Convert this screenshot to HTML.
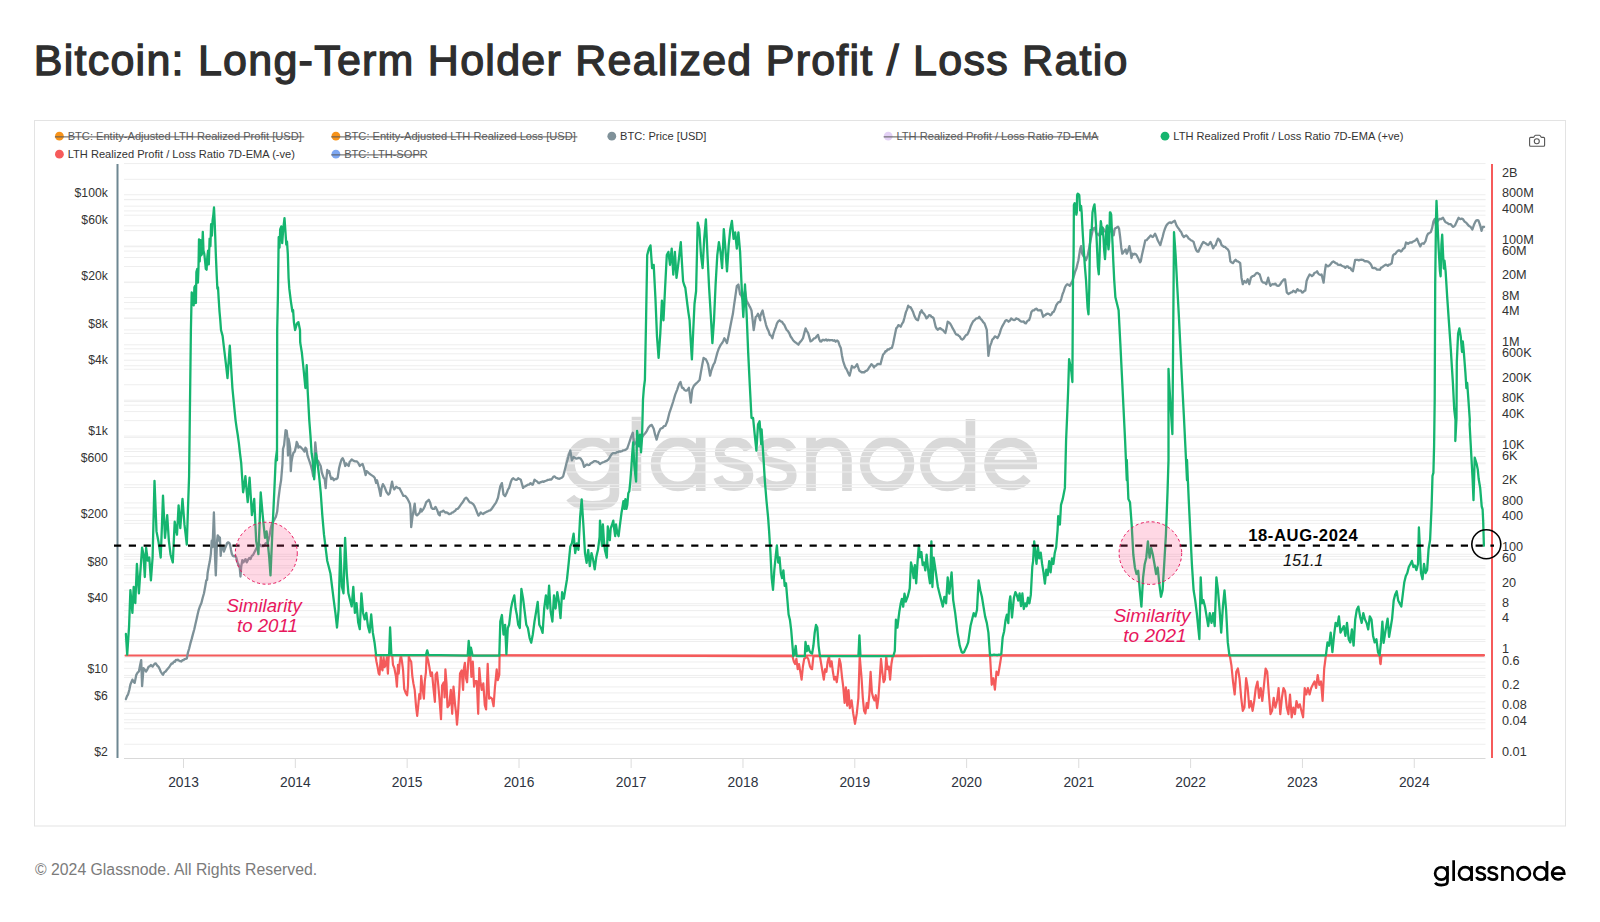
<!DOCTYPE html>
<html><head><meta charset="utf-8"><style>
html,body{margin:0;padding:0;background:#fff;width:1600px;height:922px;overflow:hidden}
svg{display:block;font-family:"Liberation Sans",sans-serif}
</style></head><body>
<svg width="1600" height="922" viewBox="0 0 1600 922">
<rect x="34.5" y="120.5" width="1531" height="705.5" fill="#fff" stroke="#e3e3e3" stroke-width="1"/>
<g transform="translate(565.25 491) scale(1)" fill="none" stroke="#d9d9d9" stroke-width="9.6" ><path d="M71.2 0V-74.25 M135.45 -54V0 M245.8 0V-54 M245.8 -31.25A17.95 17.95 0 0 1 281.7 -31.25V0 M405.2 -72V0 M49.2 -54V2 C49.2 12 39 14.7 27 14.7 C17 14.7 8.5 11.5 5 6.5 M419.5 -26.5H467A21.6 21.6 0 1 0 461.9 -13.1 M183.25 -41.00 C180.25 -47.00 175.25 -49.20 168.75 -49.20 C160.75 -49.20 154.45 -45.00 154.45 -38.50 C154.45 -31.50 160.75 -29.50 168.75 -27.50 C177.25 -25.50 183.25 -23.00 183.25 -15.50 C183.25 -8.50 176.75 -4.80 168.75 -4.80 C161.25 -4.80 155.25 -8.00 152.75 -14.00 M226.56 -41.00 C223.44 -47.00 218.25 -49.20 211.50 -49.20 C203.19 -49.20 196.65 -45.00 196.65 -38.50 C196.65 -31.50 203.19 -29.50 211.50 -27.50 C220.33 -25.50 226.56 -23.00 226.56 -15.50 C226.56 -8.50 219.81 -4.80 211.50 -4.80 C203.71 -4.80 197.48 -8.00 194.88 -14.00"/><circle cx="27" cy="-27" r="22.2"/><circle cx="112.7" cy="-27" r="22.4"/><circle cx="321.85" cy="-27.1" r="22.4"/><circle cx="381.95" cy="-27" r="22.4"/></g><path d="M124 163.58H1485.5M124 179.30H1485.5M124 194.76H1485.5M124 199.40H1485.5M124 199.74H1485.5M124 206.15H1485.5M124 210.93H1485.5M124 215.20H1485.5M124 225.80H1485.5M124 230.66H1485.5M124 246.12H1485.5M124 246.75H1485.5M124 251.10H1485.5M124 257.51H1485.5M124 266.56H1485.5M124 282.02H1485.5M124 282.58H1485.5M124 297.48H1485.5M124 302.46H1485.5M124 308.87H1485.5M124 317.92H1485.5M124 318.40H1485.5M124 329.93H1485.5M124 333.38H1485.5M124 344.80H1485.5M124 348.84H1485.5M124 353.82H1485.5M124 360.23H1485.5M124 365.75H1485.5M124 369.28H1485.5M124 384.74H1485.5M124 400.20H1485.5M124 401.58H1485.5M124 405.18H1485.5M124 411.59H1485.5M124 420.64H1485.5M124 436.10H1485.5M124 437.40H1485.5M124 448.93H1485.5M124 451.56H1485.5M124 456.54H1485.5M124 462.95H1485.5M124 463.80H1485.5M124 472.00H1485.5M124 484.75H1485.5M124 487.46H1485.5M124 502.92H1485.5M124 507.90H1485.5M124 514.31H1485.5M124 520.58H1485.5M124 523.36H1485.5M124 538.82H1485.5M124 554.28H1485.5M124 556.40H1485.5M124 559.26H1485.5M124 565.67H1485.5M124 567.93H1485.5M124 574.72H1485.5M124 582.80H1485.5M124 590.18H1485.5M124 603.75H1485.5M124 605.64H1485.5M124 610.62H1485.5M124 617.03H1485.5M124 626.08H1485.5M124 639.58H1485.5M124 641.54H1485.5M124 657.00H1485.5M124 661.98H1485.5M124 668.39H1485.5M124 675.40H1485.5M124 677.44H1485.5M124 686.93H1485.5M124 692.90H1485.5M124 701.80H1485.5M124 708.36H1485.5M124 713.34H1485.5M124 719.75H1485.5M124 722.75H1485.5M124 728.80H1485.5M124 744.26H1485.5" stroke="#eeeeee" stroke-width="1" fill="none"/><path d="M117.5 164V758" stroke="#6e8792" stroke-width="2"/><path d="M124 758.5H1485.5" stroke="#d9d9d9" stroke-width="1.2"/><path d="M183.50 758.5V768M295.33 758.5V768M407.16 758.5V768M519.00 758.5V768M631.14 758.5V768M742.97 758.5V768M854.80 758.5V768M966.63 758.5V768M1078.77 758.5V768M1190.60 758.5V768M1302.44 758.5V768M1414.27 758.5V768" stroke="#dcdcdc" stroke-width="1"/><g font-size="13.8" fill="#2d3340"><text x="183.50" y="787" text-anchor="middle">2013</text><text x="295.33" y="787" text-anchor="middle">2014</text><text x="407.16" y="787" text-anchor="middle">2015</text><text x="519.00" y="787" text-anchor="middle">2016</text><text x="631.14" y="787" text-anchor="middle">2017</text><text x="742.97" y="787" text-anchor="middle">2018</text><text x="854.80" y="787" text-anchor="middle">2019</text><text x="966.63" y="787" text-anchor="middle">2020</text><text x="1078.77" y="787" text-anchor="middle">2021</text><text x="1190.60" y="787" text-anchor="middle">2022</text><text x="1302.44" y="787" text-anchor="middle">2023</text><text x="1414.27" y="787" text-anchor="middle">2024</text></g><g font-size="12.2" fill="#333"><text x="107.8" y="197.20" text-anchor="end">$100k</text><text x="107.8" y="223.60" text-anchor="end">$60k</text><text x="107.8" y="280.38" text-anchor="end">$20k</text><text x="107.8" y="327.73" text-anchor="end">$8k</text><text x="107.8" y="363.55" text-anchor="end">$4k</text><text x="107.8" y="435.20" text-anchor="end">$1k</text><text x="107.8" y="461.60" text-anchor="end">$600</text><text x="107.8" y="518.38" text-anchor="end">$200</text><text x="107.8" y="565.73" text-anchor="end">$80</text><text x="107.8" y="601.55" text-anchor="end">$40</text><text x="107.8" y="673.20" text-anchor="end">$10</text><text x="107.8" y="699.60" text-anchor="end">$6</text><text x="107.8" y="756.38" text-anchor="end">$2</text></g><g font-size="12.7" fill="#333"><text x="1502" y="177.09">2B</text><text x="1502" y="197.46">800M</text><text x="1502" y="212.87">400M</text><text x="1502" y="243.70">100M</text><text x="1502" y="255.06">60M</text><text x="1502" y="279.49">20M</text><text x="1502" y="299.86">8M</text><text x="1502" y="315.27">4M</text><text x="1502" y="346.10">1M</text><text x="1502" y="357.46">600K</text><text x="1502" y="381.89">200K</text><text x="1502" y="402.26">80K</text><text x="1502" y="417.67">40K</text><text x="1502" y="448.50">10K</text><text x="1502" y="459.86">6K</text><text x="1502" y="484.29">2K</text><text x="1502" y="504.66">800</text><text x="1502" y="520.07">400</text><text x="1502" y="550.90">100</text><text x="1502" y="562.26">60</text><text x="1502" y="586.69">20</text><text x="1502" y="607.06">8</text><text x="1502" y="622.47">4</text><text x="1502" y="653.30">1</text><text x="1502" y="664.66">0.6</text><text x="1502" y="689.09">0.2</text><text x="1502" y="709.46">0.08</text><text x="1502" y="724.87">0.04</text><text x="1502" y="755.70">0.01</text></g><path d="M1492 164V758" stroke="#f65b5b" stroke-width="2"/><path d="M125.5 655.5H1484" stroke="#f45b5b" stroke-width="2" stroke-linecap="round"/><path d="M125.9 699.2 127 696.2 128.1 694.3 129.3 690.0 130.4 684.5 132.4 679.6 133.5 681.7 134.7 682.9 136.3 674.8 137.6 672.7 138.9 671.5 140 665.8 141.2 660.1 142.1 686.2 143.5 668.2 144.8 669.8 146.1 671.5 147.4 669.3 148.7 666.6 149.8 666.3 150.9 665.0 152.6 666.6 153.7 664.9 154.7 663.7 155.8 663.4 157.1 665.5 158.4 666.6 159.6 668.9 160.7 671.5 161.9 673.5 163 674.8 164.3 672.3 165.6 671.5 166.9 669.8 168.2 668.2 169.3 667.0 170.5 665.0 171.6 663.5 172.7 663.5 173.7 661.7 174.8 661.8 175.9 659.9 177 660.1 178.1 659.7 179.2 660.8 180.3 661.1 181.3 661.5 182.4 660.2 183.5 660.1 184.6 659.1 185.7 658.9 186.8 658.5 187.9 652.8 189.1 648.7 190.4 643.4 191.7 638.9 193 633.9 194.3 629.2 195.4 624.3 196.5 619.4 197.7 614.1 198.8 609.6 200.1 605.9 201.4 603.1 202.7 597.8 204 593.3 205.2 586.7 206.3 580.3 207.1 579.9 207.6 573.2 208.7 566.7 209.8 561.3 210.9 553.7 211.7 540.7 212.5 547.2 213.4 525.5 213.9 512.5 214.5 532.0 215 555.9 215.8 575.4 216.5 555.9 217.1 540.7 217.7 535.3 218.5 536.4 219.2 540.7 219.9 537.5 220.7 555.9 221.2 549.4 221.7 546.1 222.5 549.4 223.1 547.2 223.9 551.5 224.7 549.4 225.5 547.2 226.4 545.0 227.2 542.9 228.2 542.3 229.3 542.9 230.1 545.0 230.9 549.4 231.8 553.7 232.9 555.9 234.2 556.4 235.5 555.9 236.4 558.0 237.5 562.4 238.5 564.6 239.6 566.7 240.5 576.5 241.2 566.7 242.3 560.2 243.4 562.4 244.5 560.2 245.6 559.1 246.7 562.4 247.8 560.2 249.2 558.0 250.5 559.1 251.8 555.9 253.2 554.8 254.8 551.5 256.4 548.3 258 545.0 259.1 544.9 260.2 544.7 261.2 546.2 262.3 546.0 263.3 546.1 264.5 545.1 265.8 543.1 267 543.2 268.2 541.2 269.5 535.8 270.7 528.6 272 523.2 273.9 520.6 275.9 516.7 277.2 511.5 278.5 498.5 279.8 488.1 281.1 480.3 282.4 464.7 283 449.0 284.1 445.1 285 436.0 285.6 430.2 286.7 430.8 287.3 436.0 288 455.5 288.5 438.6 289.5 443.8 290.2 449.0 290.8 471.2 291.5 462.0 292.4 456.8 293.4 452.9 294.7 451.6 296 446.4 296.7 441.9 297.6 443.8 298.4 447.7 299.7 446.4 301.2 447.7 302.5 449.0 303.6 450.3 304.5 451.6 305.4 447.7 306.4 449.0 307.5 455.5 308.4 458.1 309.7 462.0 311 466.0 312.3 471.2 313.2 476.4 314.2 464.7 315.3 442.5 316.2 451.6 317.1 462.0 318.1 460.7 319.4 463.4 320.7 466.0 321.8 472.5 322.7 475.1 323.6 477.7 324.7 479.0 325.7 488.1 326.2 480.3 327.3 469.9 328.3 472.5 329.2 471.2 330.1 475.1 331.2 479.0 332.5 477.7 333.8 480.3 335.1 479.0 336.6 479.0 337.7 477.7 339 468.6 340.3 463.4 341.6 459.4 342.6 458.1 343.9 460.7 345.2 466.0 346.1 463.4 347.4 464.7 348.7 466.0 349.6 462.0 350.7 460.7 351.7 459.4 353.3 460.7 355.2 461.4 356.9 461.4 358.5 463.4 359.8 466.0 361.1 464.7 362.6 464.0 363.7 467.3 364.7 471.2 365.6 475.1 366.6 471.2 368.2 472.5 369.5 473.8 371.5 475.1 373.4 476.4 374.7 477.7 376.1 482.9 377 480.3 378 484.2 379.3 489.4 380.6 495.9 381.6 488.1 382.9 484.2 384.5 486.8 386.5 492.0 388.4 494.6 389.7 493.3 391 486.8 392.1 481.6 393 486.8 394.3 489.4 395.2 488.1 396.2 486.8 398.2 488.1 399.5 488.1 400.8 490.7 402.1 493.3 403.4 495.9 405.3 495.9 407.3 498.5 408.6 501.1 409.9 503.7 410.5 508.9 411.2 527.1 412.5 516.7 413.8 508.9 414.7 503.7 415.7 514.1 417 515.4 418.3 514.1 419.6 512.8 420.7 508.9 421.6 511.5 422.5 510.2 423.5 508.9 424.8 506.3 426.1 502.4 427.4 501.1 428.8 499.8 430.1 502.4 431.4 507.6 432.7 508.9 434.2 508.9 435.5 506.9 437.2 510.2 438.5 514.1 439.8 515.4 440 512.4 441.1 511.6 442.2 511.6 443.3 510.7 444.3 511.6 445.4 512.5 446.5 512.4 447.6 512.8 448.7 514.0 449.8 514.0 450.9 513.7 451.9 512.6 453 512.4 454.1 511.4 455.2 510.8 456.3 509.1 457.6 508.9 458.9 507.5 460 505.9 461.2 504.2 462.3 502.7 463.5 501.0 464.8 498.6 466.1 497.7 467.4 498.9 468.7 501.0 469.8 502.3 470.9 502.6 472.1 503.3 473.2 504.2 474.5 506.2 475.8 509.1 477.1 512.5 478.4 515.6 479.6 514.3 480.7 512.4 481.9 513.5 483 514.0 484.3 513.0 485.6 512.4 486.7 511.7 487.8 511.3 488.9 510.7 490.2 510.4 491.5 509.1 492.6 507.5 493.7 505.9 494.9 504.1 496 502.6 498 497.7 499.1 492.0 500.3 486.3 501.9 483.1 503.5 494.5 505.1 496.1 506.8 492.8 507.9 489.6 509.1 487.9 511 481.4 512.1 479.1 513.3 478.2 514.4 479.3 515.6 479.8 516.9 479.8 518.2 478.2 519.5 479.1 520.8 479.8 521.9 483.7 523.1 487.9 524.2 486.6 525.3 486.3 526.6 485.5 527.9 484.7 529.3 484.6 530.6 483.1 531.7 484.3 532.8 484.7 534.5 479.8 535.8 480.7 537.1 481.4 538.2 482.8 539.3 483.1 540.4 482.1 541.5 482.0 542.6 481.4 543.7 481.9 544.8 481.1 545.9 480.8 546.9 480.4 548 479.8 549.1 479.8 550.2 479.3 551.3 479.5 552.4 478.2 553.5 476.6 554.7 476.5 556 477.8 557.3 478.2 558.3 478.7 559.4 478.8 560.5 478.2 561.8 477.7 563.1 476.5 564.8 470.0 566.4 463.5 567.5 459.9 568.7 455.4 570.3 450.5 571.9 460.3 573.6 457.0 574.9 457.8 576.2 458.6 577.3 458.4 578.4 458.0 579.6 458.2 580.7 458.6 582.7 461.9 584 466.8 585.9 465.1 587.1 464.4 588.2 465.1 589.3 464.9 590.5 463.5 591.8 462.8 593.1 461.9 594.4 461.1 595.7 461.2 596.8 461.6 598 461.9 599 462.9 600 464.0 601.3 463.1 602.6 462.4 603.9 462.0 605.2 461.4 606.5 460.9 607.8 460.1 609.1 458.3 610.4 456.1 611.7 454.2 613 453.1 614.3 453.1 615.6 453.2 616.9 452.1 618.2 452.1 619.5 451.3 620.8 451.5 622.1 451.1 623.4 450.3 624.7 450.1 626 449.5 627.3 448.4 629.3 442.5 631.2 436.6 632.8 432.7 634.2 444.5 636.1 442.5 638.1 438.6 639.6 437.7 641 437.6 642.5 436.7 643.9 434.7 645.4 433.0 646.9 430.8 648.3 427.7 649.8 425.9 651.8 424.9 653.7 428.8 655.1 434.7 656.6 439.6 658.6 432.7 660.5 428.8 662.5 427.9 664 426.1 665.4 425.9 667.4 421.0 669.3 413.2 671.3 407.3 673.2 401.5 675.2 394.6 677.1 389.8 679.1 383.9 680.5 382.0 682 387.8 683.2 388.0 684.4 389.8 685.6 390.7 686.9 390.7 688.9 387.8 690.8 402.5 692.2 389.8 693.8 385.9 695.7 383.9 697.7 382.0 699.6 380.0 700.9 372.2 702.3 364.5 703.6 357.8 704.7 358.8 705.9 359.4 707 361.6 708.1 364.3 710.1 375.7 711.2 370.9 712.4 367.5 713.5 364.5 714.7 362.6 716 357.8 717.3 352.9 718.6 349.1 719.9 346.4 721 344.4 722.1 343.1 723.3 341.0 724.4 338.2 725.7 340.6 727 343.1 728.7 335.0 730.3 326.8 731.6 320.0 732.9 313.8 734 305.6 735.2 297.5 736.8 286.1 738.4 284.5 740.1 294.2 741.4 295.9 742.7 299.1 743.8 294.9 745 291.0 746.6 300.7 747.9 303.1 749.2 305.6 750.3 307.6 751.5 310.5 752.6 319.7 753.7 330.1 755.7 317.0 756.8 316.0 758 313.8 759.1 317.1 760.3 320.3 760 317.0 761.3 313.3 762.6 310.5 763.7 315.5 764.9 320.3 766 324.8 767.2 328.4 768.5 330.9 769.8 334.9 771.1 335.8 772.4 338.2 773.5 333.5 774.7 330.0 775.8 327.1 776.9 323.5 778.2 321.3 779.5 320.3 780.8 321.4 782.1 321.9 783.3 323.8 784.4 325.1 785.6 327.7 786.7 330.0 788 331.2 789.3 333.3 790.6 336.5 791.9 338.2 793.1 340.3 794.2 341.4 795.3 342.3 796.5 343.1 798.4 344.7 799.6 342.6 800.7 341.4 801.9 340.0 803 338.2 804.3 333.1 805.6 328.4 806.9 331.0 808.2 333.3 809.3 337.1 810.5 341.4 811.6 340.8 812.8 339.8 814.1 338.3 815.4 338.2 816.7 336.2 818 334.9 819.1 338.9 820.3 341.4 821.3 341.5 822.4 340.0 823.5 339.8 824.7 340.4 826 339.5 827.2 340.5 828.4 339.8 829.6 340.4 830.8 340.2 832.1 340.1 833.3 340.8 834.5 340.2 835.7 341.7 837 340.5 838.2 341.4 839.5 345.2 840.8 347.9 841.9 355.2 843.1 361.0 844.2 364.3 845.3 367.5 846.6 369.4 847.9 372.4 849.6 375.6 850.7 371.3 851.9 365.9 853.2 367.4 854.5 367.5 855.8 366.2 857.1 364.2 858.2 367.5 859.3 370.7 860.5 371.4 861.6 372.4 862.9 372.1 864.2 372.4 865.5 371.1 866.8 370.7 868 369.4 869.1 367.5 870.3 365.8 871.4 364.2 872.7 365.4 874 367.5 875.1 365.8 876.2 365.6 877.3 364.2 878.3 363.9 879.4 364.2 880.5 364.2 881.8 359.1 883.1 354.5 884.3 353.4 885.4 351.2 886.5 351.3 887.6 349.3 888.7 349.6 889.8 348.6 890.8 348.2 891.9 347.9 893.1 343.8 894.2 338.2 896.2 328.4 897.3 327.2 898.4 325.1 899.6 325.7 900.7 326.8 902 323.9 903.3 321.9 904.6 317.3 905.9 312.1 907.1 309.4 908.2 305.6 909.3 307.1 910.5 307.2 911.8 309.4 913.1 312.1 914.4 316.0 915.7 318.6 916.8 319.7 918 320.3 919.1 316.2 920.3 312.1 920 313.6 921.6 310.3 922.8 312.7 923.9 313.6 925.2 315.6 926.5 318.4 927.8 317.2 929.1 315.2 930.3 315.3 931.4 316.8 932.5 317.1 933.7 318.4 935.6 326.6 936.8 328.9 937.9 329.8 939.1 328.6 940.2 328.2 941.5 329.4 942.8 329.8 944.1 331.6 945.4 333.1 946.5 327.9 947.7 321.7 948.8 322.3 950 323.3 951.3 325.5 952.6 328.2 953.9 330.3 955.2 333.1 956.3 334.5 957.5 334.7 958.6 335.7 959.7 336.4 961 338.7 962.3 339.6 963.6 338.6 965 336.4 966.1 335.0 967.2 334.7 968.4 332.4 969.5 329.8 970.8 325.9 972.1 323.3 973.4 321.0 974.7 320.1 975.9 318.6 977 318.4 978.1 318.2 979.3 316.8 980.6 318.9 981.9 320.1 983.2 322.2 984.5 323.3 985.6 326.3 986.8 329.8 988.4 355.9 990 346.1 991.2 343.1 992.3 339.6 993.6 338.4 994.9 336.4 996.2 337.0 997.5 338.0 998.7 335.7 999.8 333.1 1000.9 329.4 1002.1 326.6 1004 323.3 1005.2 321.0 1006.3 320.1 1007.5 320.5 1008.6 321.7 1009.9 320.7 1011.2 318.4 1012.5 319.4 1013.8 320.1 1015 319.9 1016.1 318.4 1017.2 318.9 1018.3 319.2 1019.3 320.1 1020.4 321.1 1021.5 321.7 1022.6 321.7 1023.7 321.5 1024.8 323.1 1025.9 323.3 1026.9 321.6 1028 320.5 1029.1 320.1 1030.3 316.6 1031.4 311.9 1032.7 310.4 1034 310.3 1035.3 309.1 1036.6 308.7 1037.8 310.3 1038.9 310.3 1040 310.2 1041.2 310.3 1043.1 316.8 1044.3 315.4 1045.4 315.2 1046.5 313.8 1047.7 313.6 1049 314.0 1050.3 315.2 1051.4 314.5 1052.5 312.4 1053.6 311.9 1054.9 309.3 1056.2 305.4 1057.3 303.6 1058.4 302.1 1060 302.1 1061.3 298.8 1062.6 294.0 1063.7 291.4 1064.9 287.5 1066 285.5 1067.2 284.2 1068.5 284.7 1069.8 285.9 1071.1 283.4 1072.4 281.0 1074.1 275.4 1075.2 271.5 1076.3 268.9 1077.3 264.8 1078.4 260.2 1080.1 249.4 1081.1 246.1 1082.2 253.7 1083.3 255.9 1084.7 257.3 1086 260.2 1087.6 255.9 1089.3 247.2 1090.9 238.5 1092.5 230.9 1093.6 228.5 1094.7 227.7 1095.8 231.7 1096.9 234.2 1097.9 234.4 1099 235.3 1100.1 231.1 1101.2 226.6 1102.3 227.6 1103.4 228.8 1104.4 230.1 1105.5 232.0 1106.6 232.4 1107.7 234.2 1108.8 233.2 1109.9 230.9 1110.9 231.2 1112 229.9 1113.7 235.3 1114.7 228.8 1116.4 227.7 1118 226.6 1119.1 228.8 1120.2 237.5 1121.2 247.2 1122.3 253.7 1124 251.5 1125.6 249.4 1126.7 253.7 1127.8 251.5 1129.4 246.1 1130.5 251.5 1131.5 258.0 1132.6 253.7 1133.7 254.5 1134.8 253.7 1135.9 254.2 1137 255.9 1138.6 259.1 1140 262.4 1140.8 261.4 1141.9 255.3 1143.1 250.0 1144.2 245.3 1145.3 240.3 1146.6 240.2 1147.9 238.6 1149.3 237.1 1150.6 235.4 1151.7 236.5 1152.8 237.0 1154 235.6 1155.1 233.7 1156.4 236.6 1157.7 240.3 1159 242.8 1160.3 245.1 1161.5 240.8 1162.6 237.0 1163.7 232.5 1164.9 228.9 1166.2 225.7 1167.5 224.0 1168.8 222.8 1170.1 222.3 1171.2 223.1 1172.4 222.3 1173.5 221.4 1174.7 220.7 1176.6 225.6 1177.8 227.5 1178.9 228.9 1180 230.7 1181.2 232.1 1182.5 235.3 1183.8 237.0 1185.1 236.0 1186.4 235.4 1187.5 236.7 1188.7 238.6 1189.8 239.2 1190.9 240.3 1192.2 240.8 1193.6 241.9 1194.9 246.5 1196.2 250.0 1197.3 251.5 1198.4 251.7 1199.6 248.9 1200.7 246.8 1202 244.1 1203.3 241.9 1204.6 242.8 1205.9 243.5 1207.1 244.5 1208.2 245.1 1209.3 243.7 1210.5 241.9 1211.8 244.7 1213.1 248.4 1214.4 246.0 1215.7 245.1 1216.8 241.5 1218 238.6 1219.1 239.6 1220.3 241.9 1220 240.3 1221.6 245.1 1222.8 246.0 1223.9 246.8 1225.2 246.9 1226.5 248.4 1227.8 249.4 1229.1 251.7 1230.4 261.4 1231.7 262.5 1233 263.1 1234.3 261.1 1235.6 259.8 1236.8 261.1 1237.9 261.4 1239.1 262.2 1240.2 263.1 1241.5 277.7 1242.8 284.2 1244.4 281.0 1246.1 282.6 1247.7 279.3 1249.3 284.2 1250.9 277.7 1252.6 276.1 1253.9 275.9 1255.2 274.5 1256.3 273.1 1257.5 272.8 1258.6 273.7 1259.7 274.5 1261.7 281.0 1262.8 282.3 1264 282.6 1265.1 282.7 1266.3 284.2 1268.2 277.7 1269.3 282.5 1270.5 285.9 1271.6 284.5 1272.8 284.2 1274.1 284.4 1275.4 283.6 1276.7 285.5 1278 285.9 1279.1 285.6 1280.3 284.2 1281.4 282.3 1282.5 281.0 1283.8 279.5 1285.1 279.3 1286.8 292.4 1288.4 294.0 1289.7 293.2 1291 292.4 1292.1 292.2 1293.3 290.7 1294.4 291.2 1295.6 292.4 1297.5 289.1 1298.7 290.6 1299.8 290.7 1300.9 290.7 1302 292.5 1303.1 292.4 1304.2 290.8 1305.3 290.7 1306.6 281.0 1307.9 277.7 1309.6 274.5 1310.7 275.0 1311.9 276.1 1313.2 275.1 1314.5 272.8 1315.8 272.5 1317.1 271.2 1318.2 273.5 1319.3 274.5 1320.5 275.0 1321.6 274.5 1323.6 282.6 1324.9 271.2 1325.9 264.7 1327 265.9 1328.1 266.3 1329.4 265.5 1330.7 264.0 1332.1 262.2 1333.4 261.4 1334.5 262.1 1335.6 263.1 1336.8 263.3 1337.9 264.7 1339.2 265.0 1340.5 264.7 1341.8 265.8 1343.1 266.3 1344.3 266.7 1345.4 267.9 1346.5 266.4 1347.7 266.3 1349 267.9 1350.3 267.9 1351.6 270.1 1352.9 271.2 1354 265.6 1355.2 259.8 1356.3 259.9 1357.5 259.8 1358.8 260.4 1360.1 259.8 1361.4 259.7 1362.7 259.8 1363.8 260.5 1365 261.4 1366.1 261.2 1367.2 261.4 1368.5 261.9 1369.8 263.1 1371.1 264.7 1372.4 267.9 1373.6 268.2 1374.7 267.9 1375.9 268.6 1377 269.6 1378.3 269.7 1379.6 269.6 1380 269.8 1381 267.8 1382.1 267.2 1383.9 265.9 1385.7 264.6 1386.8 265.0 1387.8 265.9 1388.8 264.7 1389.9 264.6 1391.7 263.3 1393 255.5 1394.1 254.2 1395.1 254.2 1396.9 251.6 1398.7 250.3 1399.8 250.5 1400.8 251.6 1401.9 250.8 1402.9 249.0 1404.7 247.7 1406 242.5 1407.1 243.0 1408.1 243.8 1409.9 242.5 1411.8 242.5 1412.8 241.7 1413.8 241.2 1414.9 240.7 1415.9 239.9 1417 238.6 1418.5 242.5 1420.3 246.4 1421.6 243.8 1422.7 243.3 1423.7 243.8 1425.5 241.2 1426.9 236.0 1427.9 233.9 1428.9 233.4 1430.8 232.1 1432.1 228.2 1433.4 221.6 1434.7 219.0 1436 225.5 1437.3 221.6 1438.3 220.4 1439.3 219.0 1441.2 219.0 1443 217.7 1444 219.7 1445.1 221.6 1446.1 222.5 1447.2 222.9 1449 224.2 1450.8 224.2 1451.8 225.5 1452.9 226.9 1453.9 226.5 1455 225.5 1456.8 221.6 1458.6 217.7 1459.6 218.8 1460.7 219.0 1461.7 218.6 1462.8 219.0 1464.6 221.6 1466.4 222.9 1467.5 224.2 1468.5 225.5 1469.5 226.2 1470.6 226.9 1472.4 229.5 1474.2 224.2 1475.3 221.9 1476.3 220.3 1477.3 220.2 1478.4 220.3 1480.2 225.5 1481.5 230.8 1482.8 226.9 1484.1 226.9" fill="none" stroke="#7d9198" stroke-width="2.3" stroke-linejoin="round" stroke-linecap="round"/><path d="M375.4 655.2 376.5 661.7 377.6 667.1 378.7 673.6 379.5 674.7 380.3 663.9 380.8 656.3 381.7 668.2 382.5 670.4 383.6 657.4 384.6 667.1 385.7 664.9 386.8 657.4 387.9 673.6 388.7 656.3 390.1 655.2 392.2 655.2 393 664.9 394.4 668.2 396 676.9 396.9 686.6 398 664.9 398.7 673.6 399.8 661.7 400.9 655.2 402 661.7 403.1 670.4 404.2 688.8 405.8 693.1 407.1 695.3 408 685.6 408.8 656.3 409.9 659.5 411.2 661.7 412.3 675.8 413.4 683.4 414.7 689.9 416.1 707.2 417.2 715.9 418.3 705.1 419.3 694.2 420.4 698.6 421.2 675.8 422.6 688.8 423.9 698.6 424.8 681.2 425.9 672.5 426.6 655.2 428 659.5 429.4 667.1 430.7 675.8 432 672.5 433.4 687.7 434.9 701.8 435.6 674.7 437 672.5 438.3 685.6 439.6 700.7 441 719.2 442.1 685.6 443.8 682.3 444.6 697.5 445.4 669.3 446.5 683.4 447.5 707.2 449.2 705.1 450.8 689.9 452.2 713.8 453.5 686.6 455.1 705.1 456.2 713.8 457 724.6 458.1 711.6 459.5 686.6 460 673.6 461.6 670.4 463.1 689.9 463.8 669.3 464.9 662.8 466 678.0 467.1 682.3 468.2 662.8 468.9 655.2 470.3 655.2 471.4 676.9 472.8 661.7 474.1 686.6 475.2 681.2 476.8 681.2 478.2 713.8 479.3 668.2 480.4 681.2 481.7 689.9 483.3 683.4 484.8 705.1 486.1 709.4 487.7 663.9 489.1 698.6 490.4 697.5 492 698.6 493.6 706.2 494.9 687.7 496.7 669.3 497.8 680.1 499.3 674.7 499.6 655.2 792.5 656.2 793.8 661.4 795.1 664.0 796.4 658.8 797.7 669.2 799 664.0 800.3 671.8 801.6 679.6 802.9 666.6 804.2 658.8 805.3 658.1 806.3 656.2 808.2 658.8 810 666.6 811 668.5 812.1 669.2 813.4 656.2 819.9 656.2 821.2 664.0 822.5 671.8 823.8 679.6 825.1 669.2 826.4 671.8 827.7 661.4 829 656.2 830.3 666.6 831.6 661.4 832.9 671.8 834.2 679.6 835.5 677.0 836.8 682.2 838.1 671.8 839.4 658.8 840.7 664.0 842 677.0 843.3 687.4 844.6 703.0 845.9 687.4 847.2 705.6 848.5 690.0 849.8 708.2 851.6 700.4 853.2 713.4 855 723.8 856.8 713.4 858.4 697.8 859.7 656.2 861.5 677.0 862.8 697.8 864.1 710.8 865.4 713.4 866.7 703.0 868 708.2 869.3 695.2 870.6 671.8 871.9 692.6 873.2 697.8 874.5 700.4 875.8 695.2 877.1 708.2 878.4 697.8 879.7 679.6 881 658.8 882.3 671.8 883.6 682.2 884.9 679.6 886.2 656.2 887.5 669.2 888.8 666.6 890.1 679.6 891.4 664.0 892.7 656.2 894 656.2 990 655.4 991.7 684.8 993.3 678.2 994.9 689.6 996.5 671.7 998.2 675.0 999.8 665.2 1001.4 655.4 1229.8 655.4 1231.4 665.2 1233 681.5 1234.7 694.5 1236.3 671.7 1237.9 668.5 1239.5 678.2 1241.2 697.8 1242.8 710.8 1244.4 707.6 1246.1 678.2 1247.7 688.0 1249.3 707.6 1250.9 701.0 1252.6 710.8 1254.2 701.0 1255.8 688.0 1257.5 681.5 1259.1 697.8 1260.7 688.0 1262.3 701.0 1264 684.8 1265.6 668.5 1267.2 671.7 1268.9 694.5 1270.5 714.1 1272.1 710.8 1273.7 697.8 1275.4 707.6 1277 701.0 1278.6 688.0 1280.3 714.1 1281.9 697.8 1283.5 688.0 1285.1 691.3 1286.8 707.6 1288.4 714.1 1290 694.5 1291.7 717.3 1293.3 707.6 1294.9 714.1 1296.5 701.0 1298.2 707.6 1299.8 704.3 1301.4 710.8 1303.1 717.3 1304.7 688.0 1306.3 694.5 1307.9 688.0 1309.6 694.5 1311.2 688.0 1312.8 684.8 1314.5 681.5 1316.1 688.0 1317.7 675.0 1319.3 684.8 1321 681.5 1322.6 701.0 1324.2 668.5 1325.9 655.4 1379.6 655.4 1380.3 663.6 1380 655.1 1380.6 664.2 1381.5 655.1 1483.9 655.1" fill="none" stroke="#f45b5b" stroke-width="2.2" stroke-linejoin="round" stroke-linecap="round"/><path d="M125.9 634.0 127.2 654.6 129.1 625.9 130.4 590.1 132.4 612.9 133.7 586.8 135.3 603.1 136.9 564.0 138.9 593.3 140.2 573.8 142.1 547.7 143.5 554.2 144.8 577.0 146.1 547.7 147.7 560.7 149.3 557.5 150.9 580.3 152.6 557.5 154.5 480.9 156.5 531.4 158.4 541.2 159.6 549.0 160.7 557.5 161.9 526.6 163 495.6 165 537.9 166.1 526.4 167.2 515.1 168.9 541.2 170.5 554.2 171.6 558.5 172.8 562.4 174.7 521.7 175.9 528.4 177 534.7 178.6 505.4 180.3 528.2 181.4 512.9 182.5 498.9 184.5 524.9 185.6 534.0 186.8 544.5 187.9 510.7 189.1 476.1 190.9 330.0 191.7 292.5 192.6 294.8 193.7 305.4 194.4 287.2 195.2 285.7 195.9 303.1 196.4 272.0 197.2 269.0 197.9 282.6 198.5 267.4 199 239.3 199.7 261.4 200.5 240.1 201.3 255.3 202 253.8 202.8 231.8 203.5 250.7 204.3 253.8 205.1 261.4 205.8 269.0 206.6 269.7 207.3 256.8 208.1 250.7 208.8 264.4 209.6 238.6 210.4 246.2 211.1 224.2 211.9 235.6 212.6 220.4 213.4 214.3 214 207.5 214.6 220.4 215.2 235.6 215.8 253.8 216.7 275.0 217.4 288.7 218 287.2 218.7 299.3 219.5 311.5 220.2 319.1 221 330.0 222.6 335.9 223.7 345.3 224.9 355.4 226.2 366.5 227.5 378.2 228.6 362.6 229.8 345.7 231.1 366.8 232.4 388.0 233.5 399.3 234.5 409.7 235.6 420.6 236.7 428.4 237.8 435.3 238.9 443.4 240 453.4 241.2 463.0 243.1 492.3 244.3 484.7 245.4 476.1 246.5 489.1 247.7 502.1 249.6 477.7 250.8 496.8 251.9 515.1 253.1 507.2 254.2 498.9 256.2 541.2 257.3 547.1 258.4 554.2 259.6 523.7 260.7 492.3 262.7 515.1 263.8 526.7 265 537.9 266.6 531.4 267.9 544.2 269.2 557.5 270.5 575.4 272.4 531.4 274.4 489.1 275.7 459.8 277 450.0 277 460.3 277.2 330.0 277.9 296.3 278.7 237.1 279.5 247.7 280.2 229.5 281.3 226.4 282.2 243.1 283.2 229.5 284.5 218.1 285.5 232.5 286.3 244.7 287 241.6 287.8 253.8 288.6 278.1 289.3 288.7 290.8 300.8 292.4 311.5 293.1 310.0 293.9 322.1 295.1 330.0 296.9 323.6 298.4 322.1 300 330.0 300.2 342.4 301.8 352.2 303.5 368.5 305.4 388.0 306.7 365.2 307.7 391.3 309.3 420.6 310.5 436.2 311.6 453.2 312.6 459.8 314.2 479.3 315.8 453.3 317.5 463.0 319.1 476.1 320.7 492.3 322.3 515.1 324 534.7 325.6 547.7 327.2 560.7 328.9 567.3 330.5 573.8 332.1 586.8 333.7 599.8 335.4 612.9 337 627.5 338.6 609.6 340.3 547.7 341.9 586.8 343.5 593.3 345.1 537.9 346.8 573.8 348.4 593.3 350 599.8 351.7 606.4 353.3 586.8 354.9 612.9 356.5 603.1 358.2 622.6 359.8 629.2 361.4 593.3 363.1 612.9 364.7 619.4 366.3 612.9 367.9 625.9 369.6 632.4 371.2 614.5 372.8 632.4 374.5 642.2 376.1 655.2 389.1 655.2 390.1 627.5 391.4 655.2 425.9 655.2 427.2 650.3 428.5 655.2 439.6 655.2 467.7 655.7 468.7 641.0 470 655.7 470.9 647.6 472.6 655.7 498.6 655.7 499.3 655.7 500.3 621.5 501.9 615.0 503.5 634.5 505.1 624.8 506.4 654.1 507.8 628.0 509.1 624.8 511 608.5 512.3 602.0 514.3 595.4 515.6 608.5 516.9 615.0 518.2 624.8 519.8 628.0 521.4 588.9 523.1 598.7 524.7 611.7 526.3 624.8 527.9 628.0 529.6 637.8 531.2 642.7 532.8 634.5 534.5 621.5 536.1 611.7 537.7 602.0 539.3 624.8 541 628.0 542.6 632.9 544.2 608.5 545.9 595.4 547.5 608.5 549.1 585.7 550.7 611.7 552.4 621.5 554 595.4 555.6 608.5 557.3 592.2 558.9 602.0 560.5 618.2 562.1 592.2 563.8 598.7 565.4 588.9 567 579.2 568.7 562.9 570.3 546.6 571.9 543.3 573.6 533.6 575.2 553.1 576.8 543.3 578.4 549.8 580.1 517.3 581.7 499.3 583.3 523.8 585 553.1 586.6 562.9 588.2 549.8 589.8 566.1 591.5 553.1 593.1 559.6 594.7 569.4 596.4 556.4 598 549.8 599.6 536.8 600 520.6 601 532.3 602 546.0 602.9 524.5 603.9 540.2 604.9 549.9 606.8 557.7 607.8 526.5 608.8 536.2 609.8 540.2 610.7 528.4 612.1 524.5 613.3 520.6 614.1 528.4 615.2 536.2 616 524.5 617.2 532.3 618.6 536.2 619.5 528.4 620.5 520.6 621.5 512.8 622.5 507.0 623.4 501.1 624.4 508.9 625.4 499.1 626.4 508.9 627.3 505.0 628.3 493.3 629.3 491.3 630.3 481.6 631.2 469.8 632.2 454.2 633.2 442.5 634.2 464.0 635.2 473.8 636.1 481.6 637.1 430.8 638.1 438.6 639.1 446.4 640 434.7 641 452.3 642 438.6 643 399.5 643.9 387.8 644.9 380.0 646.1 318.1 647.2 255.1 648.9 248.6 650.5 245.4 652.1 268.2 653.7 264.9 655.4 297.5 657 336.6 658.6 357.8 660.3 333.3 661.9 300.7 663.5 320.3 665.1 287.7 666.8 255.1 668.4 251.9 670 264.9 671.7 248.6 673.3 274.7 674.9 251.9 676.5 277.9 678.2 264.9 679.5 253.5 680.8 242.1 681.9 262.0 683.1 281.2 684.2 285.0 685.3 287.7 687.3 304.0 688.4 312.4 689.6 320.3 690.7 340.4 691.9 359.4 693.2 331.5 694.5 304.0 696.1 291.0 697.7 222.6 699.3 229.1 701 255.1 702.6 268.2 704.2 238.9 705.9 219.3 707.5 255.1 709.1 287.7 710.7 313.8 712.4 343.1 714 320.3 715.6 284.5 717.3 255.1 718.9 242.1 720.5 251.9 722.1 268.2 723.8 229.1 725.4 248.6 727 271.4 728.7 245.4 730.3 229.1 731.9 220.9 733.6 238.9 735.2 232.3 736.8 248.6 738.4 232.3 740.1 251.9 741.7 287.7 743.3 317.0 745 284.5 746.6 313.8 748.2 352.9 749.8 385.4 751.5 418.0 753.1 418.0 754.7 434.3 756.4 450.6 758 424.5 759.6 421.3 761.2 444.1 761.6 429.4 763.3 455.4 764.9 481.5 766.5 501.0 768.1 517.3 769.1 531.2 770.4 552.1 771.7 578.1 773 589.8 774.3 570.3 775.6 557.3 776.9 545.5 778.2 562.5 779.5 557.3 780.8 572.9 782.1 578.1 783.4 570.3 784.7 585.9 786 583.3 787.3 598.9 788.6 614.5 789.9 619.7 791.2 630.1 792.5 645.8 793.3 656.2 794.6 653.6 795.7 645.8 796.7 656.2 804.8 656.2 805.5 641.9 806.9 651.0 808.2 645.8 809.5 651.0 810.8 652.7 812.1 653.6 813.4 645.8 814.7 632.7 816 624.9 817.3 627.5 818.6 645.8 819.9 656.2 858.4 656.2 859.4 635.3 860.5 656.2 893.3 656.2 894.8 651.0 895.9 619.7 897.4 627.5 899.3 611.9 900.6 604.1 901.9 598.9 903.2 606.7 904.5 593.7 905.8 601.5 906.8 598.8 907.8 596.3 909.7 588.5 911 562.5 912.3 567.7 913.6 578.1 914.9 565.1 916.2 583.3 917.5 562.5 918.8 545.5 920.1 557.3 921.4 552.1 922.7 565.1 924 562.5 925.3 570.3 926.6 554.7 927.9 567.7 928.9 576.1 930 583.3 931.4 541.4 932.4 587.0 933.7 557.7 935.6 570.7 936.8 579.4 937.9 587.0 939.5 593.6 941.2 600.1 942.8 606.6 944.4 596.8 946.1 603.3 947.7 577.3 949.3 593.6 950.5 582.4 951.6 572.4 953.2 600.1 955.2 613.1 956.3 622.4 957.5 632.6 958.6 638.8 959.7 645.7 961.7 652.2 962.8 652.8 964 652.2 965.1 649.7 966.3 647.3 968.2 642.4 969.3 634.4 970.5 626.1 972.1 619.6 973.7 613.1 975.4 616.4 977 609.8 978.6 580.5 980.3 590.3 981.9 596.8 983.5 606.6 985.1 616.4 986.8 622.9 988.4 632.6 990 655.4 991.1 655.0 992.1 655.2 993.1 654.9 994.1 654.7 995.1 654.9 996.2 654.8 997.2 655.1 998.2 654.7 999.2 654.9 1000.2 654.7 1001.3 654.1 1002.7 637.2 1004.1 631.5 1005.5 620.3 1006.9 614.6 1008.3 623.1 1009.2 603.4 1010.3 596.3 1012 617.5 1013.9 597.7 1015.4 592.1 1016.8 594.9 1018.2 600.6 1019.6 593.5 1021 606.2 1022.4 593.5 1023.8 609.0 1025.2 603.4 1026.6 606.2 1028 597.7 1029.4 603.4 1030.8 594.9 1032.3 566.8 1033.1 561.1 1034.2 541.4 1035.1 549.9 1036.5 563.9 1037.9 547.0 1039.3 558.3 1040.7 552.7 1042.1 563.9 1043.5 572.4 1044.9 583.7 1046.3 569.6 1047.7 575.2 1049.2 561.1 1050.6 572.4 1052 558.3 1053.4 563.9 1054.8 552.7 1056.2 547.0 1057.6 530.1 1058.2 516.1 1059.9 524.5 1061 504.8 1062.7 499.2 1063.8 493.5 1064.9 487.9 1066.1 440.0 1067.2 414.5 1068.1 391.7 1069.1 359.2 1070.4 365.7 1071.4 372.2 1072.4 382.0 1073 279.9 1073.6 255.9 1073.9 204.9 1074.6 203.3 1075.7 203.8 1076.3 214.7 1076.8 212.5 1077.1 195.2 1077.7 193.6 1078.4 194.1 1079.3 195.2 1080.1 210.4 1080.6 207.1 1081.1 206.0 1081.7 212.5 1082.2 223.4 1082.8 234.2 1083.8 250.5 1084.9 266.7 1086 279.9 1087.6 307.9 1088.5 314.3 1089.3 288.4 1089.8 249.4 1090.6 229.9 1091.7 229.9 1092.5 212.5 1093.6 207.1 1094.5 204.4 1095.2 212.5 1096 225.5 1096.9 245.0 1097.9 266.7 1098.8 274.3 1099.6 255.9 1100.1 234.2 1100.8 221.2 1101.2 223.4 1101.7 234.2 1102.5 227.7 1103.4 236.4 1104.2 250.5 1105 259.1 1105.5 250.5 1106.1 234.2 1106.6 226.6 1107.2 225.5 1107.7 240.7 1108.5 249.4 1109.3 240.7 1109.9 212.5 1110.4 212.5 1111.2 214.7 1111.8 228.8 1112.6 245.0 1113.3 261.3 1114.2 279.9 1115.4 297.3 1117 303.8 1118.6 310.3 1120.3 342.9 1121.9 375.4 1123.5 408.0 1125.1 440.6 1126.8 480.3 1126.8 460.0 1128.4 499.1 1130 502.3 1131.7 525.1 1133.3 554.5 1134.9 567.5 1136.5 574.0 1138.2 570.7 1139.8 590.3 1141.4 606.6 1143.1 577.3 1144.7 564.2 1146.3 557.7 1147.9 541.4 1149.6 557.7 1151.2 547.9 1152.8 554.5 1154.5 564.2 1156.1 574.0 1157.7 567.5 1159.3 583.8 1161 596.8 1162.6 590.3 1164.2 564.2 1165.9 534.9 1167.5 492.6 1168.5 460.0 1168.5 368.9 1169.6 389.2 1170.7 408.0 1172.4 434.1 1174 232.1 1175.6 254.9 1177.3 287.5 1178.9 316.8 1180.5 349.4 1182.1 382.0 1183.8 414.5 1185.4 447.1 1187 480.3 1187 460.0 1188.7 499.1 1190.3 531.7 1191.9 564.2 1193.6 590.3 1195.2 600.1 1196.8 613.1 1198.4 629.4 1199.4 639.2 1200.7 577.3 1202 603.3 1203.3 600.1 1205 606.6 1206.6 616.4 1208.2 626.1 1209.8 613.1 1211.5 622.9 1213.1 613.1 1214.7 626.1 1216.4 577.3 1218 590.3 1219.6 609.8 1221.2 632.6 1222.9 606.6 1224.5 590.3 1226.1 609.8 1227.8 642.4 1229.4 655.4 1229.8 655.4 1325.9 655.4 1327.5 642.4 1329.1 645.7 1330.7 632.6 1332.4 652.2 1334 635.9 1335.6 622.9 1337.3 626.1 1338.9 616.4 1340.5 632.6 1342.1 629.4 1343.8 626.1 1345.4 635.9 1347 622.9 1348.7 639.2 1350.3 642.4 1351.9 629.4 1353.6 645.7 1355.2 619.6 1356.8 609.8 1358.4 606.6 1360.1 616.4 1361.7 622.9 1363.3 613.1 1365 619.6 1366.6 622.9 1368.2 629.4 1369.8 616.4 1371.5 619.6 1373.1 635.9 1374.7 642.4 1376.4 639.2 1378 652.2 1379.6 655.4 1380.9 642.9 1382.4 621.7 1383.6 642.9 1385.5 630.8 1386.5 625.0 1387.6 618.6 1389.1 636.9 1390.6 627.8 1392.1 618.6 1393.7 600.4 1395.2 594.4 1396.7 591.3 1398.2 600.4 1399.7 603.5 1401.3 606.5 1402.8 594.4 1404.3 582.2 1405.8 576.1 1407.3 573.1 1408.8 567.0 1410.4 564.0 1411.9 560.9 1413.4 567.0 1414.9 565.5 1416.4 570.1 1418 564.0 1418.9 527.5 1420.1 551.8 1421 573.1 1422.5 579.2 1424 564.0 1425.6 573.1 1427.1 570.1 1428.6 548.8 1430.1 539.7 1431.6 506.3 1432.5 475.9 1433.4 472.9 1434.1 445.6 1434.7 400.0 1435.2 284.1 1436 219.0 1436.5 200.8 1437.3 219.0 1438.6 247.7 1439.9 271.1 1440.6 276.3 1441.4 245.1 1442.2 234.7 1443 252.9 1443.8 268.5 1444.5 260.7 1445.6 271.1 1447.2 297.1 1449 323.2 1450.8 349.2 1451.8 365.6 1452.9 383.0 1454.2 409.0 1455.5 420.0 1455.3 441.0 1456.5 418.2 1456.8 362.2 1458.1 333.6 1459.4 328.4 1460.7 336.2 1462 351.8 1462.8 341.4 1463.8 351.8 1465.4 372.6 1466.4 388.2 1467.2 383.0 1468.5 401.2 1469.8 420.0 1469.6 424.3 1471.1 451.6 1472.6 479.0 1473.5 500.2 1474.7 457.7 1476.6 463.8 1477.8 469.8 1478.7 479.0 1480.2 488.1 1481.7 506.3 1482.6 509.3 1483.2 521.5 1483.9 545.8" fill="none" stroke="#15b56f" stroke-width="2.3" stroke-linejoin="round" stroke-linecap="round"/><path d="M114.0 545.7H1494" stroke="#000" stroke-width="2.2" stroke-dasharray="7.2 7.6"/><circle cx="266.3" cy="553.2" r="31" fill="#ff4d88" fill-opacity="0.22" stroke="#e8175d" stroke-width="1" stroke-dasharray="3 2.5"/><circle cx="1150.4" cy="553.1" r="31.3" fill="#ff4d88" fill-opacity="0.22" stroke="#e8175d" stroke-width="1" stroke-dasharray="3 2.5"/><circle cx="1486.3" cy="544.2" r="14.5" fill="none" stroke="#000" stroke-width="1.6"/><g font-size="18" font-style="italic" fill="#e8175d" text-anchor="middle" lengthAdjust="spacingAndGlyphs"><text x="264.1" y="611.5" textLength="75.2" lengthAdjust="spacingAndGlyphs">Similarity</text><text x="267.4" y="632" textLength="60.8" lengthAdjust="spacingAndGlyphs">to 2011</text><text x="1152.0" y="621.6" textLength="77.2" lengthAdjust="spacingAndGlyphs">Similarity</text><text x="1155.0" y="642.1" textLength="63.3" lengthAdjust="spacingAndGlyphs">to 2021</text></g><text x="1302.9" y="540.8" font-size="16.6" font-weight="bold" fill="#000" text-anchor="middle" textLength="109.5" lengthAdjust="spacing">18-AUG-2024</text><text x="1303.2" y="565.6" font-size="16.4" font-style="italic" fill="#111" text-anchor="middle" textLength="40.5" lengthAdjust="spacing">151.1</text><g><circle cx="59.4" cy="136.2" r="4.4" fill="#f7931a"/><text x="67.7" y="140.1" fill="#5a5a5a" font-size="11.1">BTC: Entity-Adjusted LTH Realized Profit [USD]</text><circle cx="335.9" cy="136.2" r="4.4" fill="#f7931a"/><text x="344.2" y="140.1" fill="#5a5a5a" font-size="11.1">BTC: Entity-Adjusted LTH Realized Loss [USD]</text><circle cx="611.8" cy="136.2" r="4.4" fill="#7f9199"/><text x="620.1" y="140.1" fill="#333" font-size="11.1">BTC: Price [USD]</text><circle cx="888.2" cy="136.2" r="4.4" fill="#e3d1f5"/><text x="896.5" y="140.1" fill="#5a5a5a" font-size="11.1">LTH Realized Profit / Loss Ratio 7D-EMA</text><circle cx="1165" cy="136.2" r="4.4" fill="#15b56f"/><text x="1173.3" y="140.1" fill="#333" font-size="11.1">LTH Realized Profit / Loss Ratio 7D-EMA (+ve)</text><circle cx="59.4" cy="154.2" r="4.4" fill="#f65b5b"/><text x="67.7" y="158.1" fill="#333" font-size="11.1">LTH Realized Profit / Loss Ratio 7D-EMA (-ve)</text><circle cx="335.9" cy="154.2" r="4.4" fill="#7ea7f2"/><text x="344.2" y="158.1" fill="#5a5a5a" font-size="11.1">BTC: LTH-SOPR</text></g><path d="M54.9 136.9H304.3M331.3 136.9H577.4M883.7 136.9H1098.6M331.3 154.9H424" stroke="#5a5a5a" stroke-width="1"/><g fill="none" stroke="#555" stroke-width="1.1" stroke-linejoin="round"><path d="M1530.6 137.4h2.4q0.8 0 1.3-1l0.4-0.6q0.3-0.5 1-0.5h3.6q0.7 0 1 0.5l0.4 0.6q0.5 1 1.3 1h1.6q1 0 1 1v6.9q0 1-1 1h-13q-1 0-1-1v-6.9q0-1 1-1z"/><circle cx="1536.8" cy="141.3" r="2.5"/></g><text x="33.75" y="74.9" font-size="43" fill="#2e2e2e" stroke="#2e2e2e" stroke-width="1.3" textLength="1093.75" lengthAdjust="spacing">Bitcoin: Long-Term Holder Realized Profit / Loss Ratio</text><text x="35" y="875" font-size="15.8" fill="#7b7b7b">© 2024 Glassnode. All Rights Reserved.</text><g transform="translate(1433.75 881) scale(0.2795)" fill="none" stroke="#000" stroke-width="9.6" ><path d="M71.2 0V-74.25 M135.45 -54V0 M245.8 0V-54 M245.8 -31.25A17.95 17.95 0 0 1 281.7 -31.25V0 M405.2 -72V0 M49.2 -54V2 C49.2 12 39 14.7 27 14.7 C17 14.7 8.5 11.5 5 6.5 M419.5 -26.5H467A21.6 21.6 0 1 0 461.9 -13.1 M183.25 -41.00 C180.25 -47.00 175.25 -49.20 168.75 -49.20 C160.75 -49.20 154.45 -45.00 154.45 -38.50 C154.45 -31.50 160.75 -29.50 168.75 -27.50 C177.25 -25.50 183.25 -23.00 183.25 -15.50 C183.25 -8.50 176.75 -4.80 168.75 -4.80 C161.25 -4.80 155.25 -8.00 152.75 -14.00 M226.56 -41.00 C223.44 -47.00 218.25 -49.20 211.50 -49.20 C203.19 -49.20 196.65 -45.00 196.65 -38.50 C196.65 -31.50 203.19 -29.50 211.50 -27.50 C220.33 -25.50 226.56 -23.00 226.56 -15.50 C226.56 -8.50 219.81 -4.80 211.50 -4.80 C203.71 -4.80 197.48 -8.00 194.88 -14.00"/><circle cx="27" cy="-27" r="22.2"/><circle cx="112.7" cy="-27" r="22.4"/><circle cx="321.85" cy="-27.1" r="22.4"/><circle cx="381.95" cy="-27" r="22.4"/></g>
</svg></body></html>
